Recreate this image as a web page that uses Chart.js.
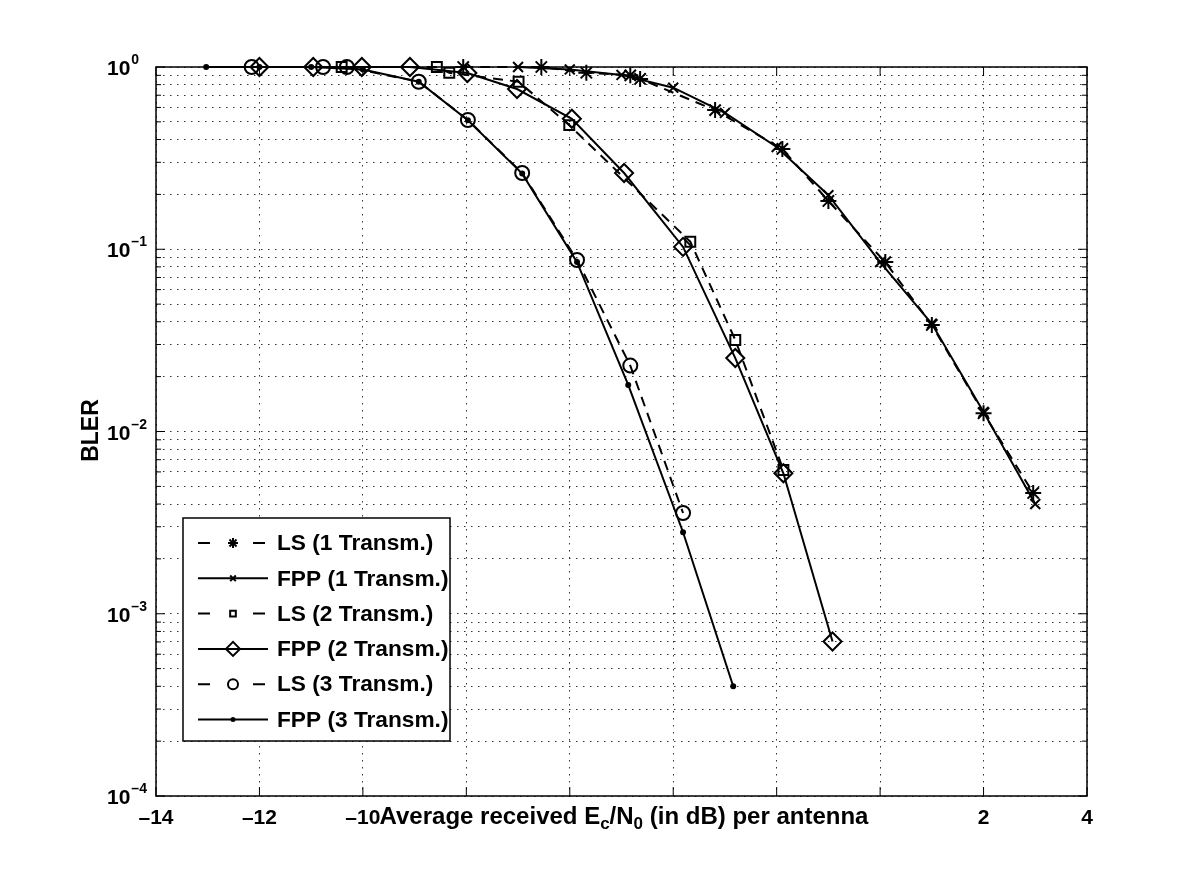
<!DOCTYPE html>
<html>
<head>
<meta charset="utf-8">
<script src="https://cdn.jsdelivr.net/npm/chart.js@4.4.1/dist/chart.umd.min.js"></script>
<style>
  html, body { margin: 0; padding: 0; background: #fff; }
  #wrap { width: 1200px; height: 896px; }
</style>
</head>
<body>
<div id="wrap"><canvas id="myChart" width="1200" height="896"></canvas></div>
<script>
// values (x in dB, y = BLER)
var lsOneX = [-8.06, -6.55, -5.68, -4.83, -4.64, -3.19, -1.89, -1.0, 0.1, 1.0, 2.0, 2.96];
var lsOneY = [1.0, 1.0, 0.93, 0.90, 0.86, 0.58, 0.355, 0.184, 0.085, 0.0384, 0.0126, 0.0046];

var fppOneX = [-7, -6, -5, -4, -3, -2, -1, 0, 1, 2, 3];
var fppOneY = [1.0, 0.97, 0.905, 0.77, 0.56, 0.364, 0.198, 0.085, 0.039, 0.0128, 0.004];

var lsTwoX = [-10.41, -8.57, -8.33, -6.99, -6.01, -3.67, -2.8, -1.87];
var lsTwoY = [1.0, 1.0, 0.93, 0.83, 0.48, 0.11, 0.0318, 0.00615];

var fppTwoX = [-12.0, -10.96, -10.02, -9.09, -7.98, -7.02, -5.96, -4.95, -3.81, -2.8, -1.87, -0.92];
var fppTwoY = [1, 1, 1, 1, 0.927, 0.757, 0.52, 0.262, 0.103, 0.0253, 0.0059, 0.000704];

var lsThreeX = [-12.15, -10.77, -10.31, -8.92, -7.97, -6.92, -5.86, -4.83, -3.81];
var lsThreeY = [1, 1, 1, 0.83, 0.512, 0.262, 0.0873, 0.023, 0.00357];

var fppThreeX = [-13.03, -12, -11, -10, -8.92, -7.97, -6.92, -5.86, -4.87, -3.81, -2.84];
var fppThreeY = [1, 1, 1, 0.97, 0.83, 0.51, 0.26, 0.085, 0.018, 0.0028, 0.0004];

var seriesNames = ["LS (1 Transm.)", "FPP (1 Transm.)", "LS (2 Transm.)",
                   "FPP (2 Transm.)", "LS (3 Transm.)", "FPP (3 Transm.)"];

var xTicks = [-14, -12, -10, -8, -6, -4, -2, 0, 2, 4];
var yDecades = [0, -1, -2, -3, -4];  // exponents of the labelled ticks

var FONT = "'Liberation Sans', Arial, Helvetica, sans-serif";
var DASH = [10, 7];
var CLEAR = "rgba(0,0,0,0)";

function pts(xs, ys) {
  return xs.map(function (x, i) { return { x: x, y: ys[i] }; });
}

function series(label, xs, ys, dashed, style, radius) {
  var dot = style === "dot";
  return {
    label: label,
    data: pts(xs, ys),
    showLine: true,
    clip: false,
    borderColor: "#000",
    borderWidth: 2,
    borderDash: dashed ? DASH : [],
    backgroundColor: dot ? "#000" : CLEAR,
    pointStyle: dot ? "circle" : style,
    pointRadius: radius,
    pointBorderColor: "#000",
    pointBackgroundColor: dot ? "#000" : CLEAR,
    pointBorderWidth: 2,
    pointHoverRadius: radius,
    tension: 0
  };
}

var datasets = [
  series(seriesNames[0], lsOneX, lsOneY, true, "star", 8),
  series(seriesNames[1], fppOneX, fppOneY, false, "crossRot", 7),
  series(seriesNames[2], lsTwoX, lsTwoY, true, "rect", 7),
  series(seriesNames[3], fppTwoX, fppTwoY, false, "rectRot", 9),
  series(seriesNames[4], lsThreeX, lsThreeY, true, "circle", 7),
  series(seriesNames[5], fppThreeX, fppThreeY, false, "dot", 2)
];

// grid values on the log axis: every n * 10^k
function logGridValues() {
  var out = [];
  for (var e = -4; e < 0; e++) {
    for (var m = 1; m < 10; m++) out.push(m * Math.pow(10, e));
  }
  out.push(1);
  return out;
}

function drawMarker(ctx, style, x, y, r) {
  ctx.save();
  ctx.strokeStyle = "#000";
  ctx.lineWidth = 2;
  ctx.setLineDash([]);
  if (style === "dot") {
    ctx.fillStyle = "#000";
    ctx.beginPath(); ctx.arc(x, y, 2.5, 0, Math.PI * 2); ctx.fill();
  } else {
    ctx.fillStyle = CLEAR;
    Chart.helpers.drawPoint(ctx, { pointStyle: style, radius: r, borderWidth: 2 }, x, y);
  }
  ctx.restore();
}

var matlabFrame = {
  id: "matlabFrame",
  afterDraw: function (chart) {
    var ctx = chart.ctx;
    var a = chart.chartArea;
    var xs = chart.scales.x, ys = chart.scales.y;
    ctx.save();

    // box
    ctx.strokeStyle = "#000";
    ctx.lineWidth = 1.5;
    ctx.strokeRect(a.left, a.top, a.right - a.left, a.bottom - a.top);

    // inward ticks
    ctx.lineWidth = 1;
    xTicks.forEach(function (v) {
      var px = xs.getPixelForValue(v);
      ctx.beginPath();
      ctx.moveTo(px, a.bottom); ctx.lineTo(px, a.bottom - 9);
      ctx.moveTo(px, a.top); ctx.lineTo(px, a.top + 9);
      ctx.stroke();
    });
    logGridValues().forEach(function (v) {
      var py = ys.getPixelForValue(v);
      var major = Math.abs(Math.log10(v) - Math.round(Math.log10(v))) < 1e-9;
      var len = major ? 9 : 5;
      ctx.beginPath();
      ctx.moveTo(a.left, py); ctx.lineTo(a.left + len, py);
      ctx.moveTo(a.right, py); ctx.lineTo(a.right - len, py);
      ctx.stroke();
    });

    // x title with subscripts (measured first, the tick labels under it are hidden)
    var parts = [["Average received E", 0], ["c", 1], ["/N", 0], ["0", 1], [" (in dB) per antenna", 0]];
    var total = 0;
    parts.forEach(function (p) {
      ctx.font = (p[1] ? "bold 17px " : "bold 24px ") + FONT;
      total += ctx.measureText(p[0]).width;
    });
    var tx0 = 624 - total / 2, tx1 = 624 + total / 2;

    // x tick labels
    ctx.fillStyle = "#000";
    ctx.font = "bold 21px " + FONT;
    ctx.textAlign = "center";
    ctx.textBaseline = "middle";
    xTicks.forEach(function (v) {
      var px = xs.getPixelForValue(v);
      if (px > tx0 + 10 && px < tx1 + 25) return;
      var s = v < 0 ? "\u2013" + Math.abs(v) : String(v);
      ctx.fillText(s, px, a.bottom + 22);
    });

    var cx = tx0;
    var by = a.bottom + 28;
    ctx.textAlign = "left";
    ctx.textBaseline = "alphabetic";
    parts.forEach(function (p) {
      ctx.font = (p[1] ? "bold 17px " : "bold 24px ") + FONT;
      ctx.fillText(p[0], cx, p[1] ? by + 5 : by);
      cx += ctx.measureText(p[0]).width;
    });

    // y tick labels 10^k, left aligned like MATLAB
    yDecades.forEach(function (e) {
      var py = ys.getPixelForValue(Math.pow(10, e));
      var exp = e === 0 ? "0" : "\u2013" + Math.abs(e);
      ctx.textAlign = "left";
      ctx.textBaseline = "alphabetic";
      ctx.font = "bold 21px " + FONT;
      var bw = ctx.measureText("10").width;
      ctx.fillText("10", 107, py + 8);
      ctx.font = "bold 14px " + FONT;
      ctx.fillText(exp, 108 + bw, py - 3);
    });

    // y title
    ctx.save();
    ctx.translate(a.left - 64, (a.top + a.bottom) / 2 - 1);
    ctx.rotate(-Math.PI / 2);
    ctx.font = "bold 23px " + FONT;
    ctx.textAlign = "center";
    ctx.textBaseline = "middle";
    ctx.fillText("BLER", 0, 0);
    ctx.restore();

    // legend
    var lx = 183, ly = 518, lw = 267, lh = 223;
    ctx.fillStyle = "#fff";
    ctx.fillRect(lx, ly, lw, lh);
    ctx.strokeStyle = "#000";
    ctx.lineWidth = 1.5;
    ctx.strokeRect(lx, ly, lw, lh);
    var styles = ["star", "crossRot", "rect", "rectRot", "circle", "dot"];
    var sizes = [5, 4, 4, 7, 5, 2];
    chart.data.datasets.forEach(function (ds, i) {
      var yy = 543 + i * 35.3;
      ctx.save();
      ctx.strokeStyle = "#000";
      ctx.lineWidth = 2;
      ctx.setLineDash(ds.borderDash.length ? [12, 43] : []);
      ctx.beginPath();
      ctx.moveTo(198, yy); ctx.lineTo(268, yy);
      ctx.stroke();
      ctx.restore();
      drawMarker(ctx, styles[i], 233, yy, sizes[i]);
      ctx.fillStyle = "#000";
      ctx.font = "bold 22.7px " + FONT;
      ctx.textAlign = "left";
      ctx.textBaseline = "middle";
      ctx.fillText(ds.label, 277, yy + 1);
    });

    ctx.restore();
  }
};

var ctx = document.getElementById("myChart").getContext("2d");
var chart = new Chart(ctx, {
  type: "scatter",
  data: { datasets: datasets },
  options: {
    responsive: false,
    animation: false,
    events: [],
    layout: { padding: { left: 156, right: 113, top: 67, bottom: 100 } },
    plugins: {
      legend: { display: false },
      tooltip: { enabled: false },
      title: { display: false }
    },
    scales: {
      x: {
        type: "linear",
        min: -14,
        max: 4,
        afterBuildTicks: function (scale) {
          scale.ticks = xTicks.map(function (v) { return { value: v }; });
        },
        ticks: { display: false },
        grid: { color: "#333", lineWidth: 1, drawTicks: false },
        border: { display: false, dash: [1.5, 5.5] }
      },
      y: {
        type: "logarithmic",
        min: 1e-4,
        max: 1,
        afterBuildTicks: function (scale) {
          scale.ticks = logGridValues().map(function (v) { return { value: v }; });
        },
        ticks: { display: false },
        grid: { color: "#333", lineWidth: 1, drawTicks: false },
        border: { display: false, dash: [1.5, 5.5] }
      }
    }
  },
  plugins: [matlabFrame]
});
</script>
</body>
</html>
